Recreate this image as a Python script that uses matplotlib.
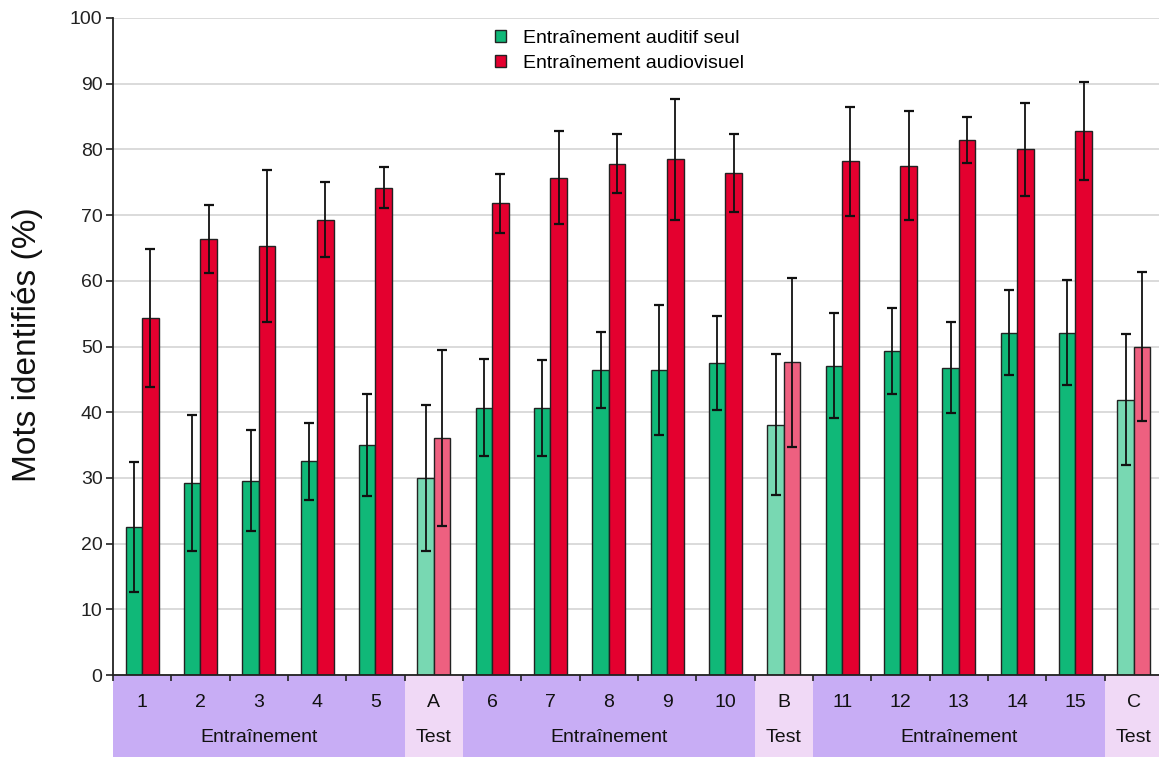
import matplotlib
matplotlib.use("Agg")
import matplotlib.pyplot as plt
import numpy as np
from matplotlib.patches import Patch

plt.rcParams["font.family"] = ["Liberation Sans", "DejaVu Sans"]

labels = ["1", "2", "3", "4", "5", "A", "6", "7", "8", "9", "10", "B",
          "11", "12", "13", "14", "15", "C"]
is_test = [False] * 5 + [True] + [False] * 5 + [True] + [False] * 5 + [True]
auditif = [22.5, 29.2, 29.6, 32.5, 35.0, 30.0, 40.7, 40.7, 46.4, 46.4, 47.5, 38.1,
           47.1, 49.3, 46.8, 52.1, 52.1, 41.9]
auditif_err = [9.9, 10.4, 7.7, 5.8, 7.8, 11.1, 7.4, 7.3, 5.8, 9.9, 7.2, 10.7,
               8.0, 6.6, 6.9, 6.5, 8.0, 10.0]
audiovisuel = [54.3, 66.4, 65.3, 69.3, 74.2, 36.1, 71.8, 75.7, 77.8, 78.5, 76.4, 47.6,
               78.2, 77.5, 81.4, 80.0, 82.8, 50.0]
audiovisuel_err = [10.5, 5.2, 11.5, 5.7, 3.1, 13.4, 4.5, 7.1, 4.5, 9.2, 5.9, 12.9,
                   8.3, 8.3, 3.5, 7.1, 7.5, 11.3]
sessions = [("Entraînement", 5), ("Test", 1), ("Entraînement", 5), ("Test", 1),
            ("Entraînement", 5), ("Test", 1)]

GREEN, GREEN_LT = "#10B878", "#78D8B2"
RED, RED_LT = "#E4002F", "#EE6080"
BAND_TRAIN, BAND_TEST = "#C8ADF5", "#F0D9F6"

W, H = 1159, 757
fig = plt.figure(figsize=(W / 100, H / 100), dpi=100)
left, right, top, bottom = 113, 1163, 18, 675
ax = fig.add_axes([left / W, 1 - bottom / H, (right - left) / W, (bottom - top) / H])
band = fig.add_axes([left / W, 0, (right - left) / W, (H - bottom) / H])

x = np.arange(len(labels))
bw = 0.283
g_colors = [GREEN_LT if t else GREEN for t in is_test]
r_colors = [RED_LT if t else RED for t in is_test]

ax.bar(x - bw / 2, auditif, bw, color=g_colors, edgecolor="#222222", linewidth=1, zorder=2)
ax.bar(x + bw / 2, audiovisuel, bw, color=r_colors, edgecolor="#222222", linewidth=1, zorder=2)
ax.errorbar(x - bw / 2, auditif, yerr=auditif_err, fmt="none", ecolor="#111111",
            elinewidth=1.3, capsize=3.4, capthick=1.6, zorder=3)
ax.errorbar(x + bw / 2, audiovisuel, yerr=audiovisuel_err, fmt="none", ecolor="#111111",
            elinewidth=1.3, capsize=3.4, capthick=1.6, zorder=3)

ax.set_xlim(-0.5, len(labels) - 0.5)
ax.set_ylim(0, 100)
ax.set_yticks(range(0, 101, 10))
ax.yaxis.grid(True, color="#D4D4D4", linewidth=1.2, zorder=0)
ax.set_axisbelow(True)
for s in ["top", "right"]:
    ax.spines[s].set_visible(False)
ax.spines["left"].set_linewidth(1.3)
ax.spines["bottom"].set_linewidth(1.3)
ax.spines["left"].set_color("#222222")
ax.spines["bottom"].set_color("#222222")
ax.tick_params(axis="y", length=5, width=1.2, pad=2.5, labelsize=14, colors="#222222")
ax.set_xticks(np.arange(-0.5, len(labels) - 0.4, 1.0))
ax.tick_params(axis="x", length=4.5, width=1.2, labelbottom=False, colors="#222222")

fig.text(28 / W, 1 - 345 / H, "Mots identifiés (%)", rotation=90, ha="center", va="center",
         fontsize=24, color="#111111")

# bandeau des catégories sous l'axe
band.set_xlim(-0.5, len(labels) - 0.5)
band.set_ylim(0, 1)
band.axis("off")
start = 0
for name, n in sessions:
    col = BAND_TEST if name == "Test" else BAND_TRAIN
    band.axvspan(start - 0.5, start + n - 0.5, color=col, lw=0)
    band.text(start + (n - 1) / 2, 0.235, name, ha="center", va="center", fontsize=14, color="#111111")
    start += n
for i, lab in enumerate(labels):
    band.text(i, 0.66, lab, ha="center", va="center", fontsize=14, color="#111111")
ax.set_zorder(band.get_zorder() + 1)

handles = [Patch(facecolor=GREEN, edgecolor="#222222", label="Entraînement auditif seul"),
           Patch(facecolor=RED, edgecolor="#222222", label="Entraînement audiovisuel")]
fig.legend(handles=handles, loc="upper left", bbox_to_anchor=(495 / W, 1 - 30 / H),
           frameon=False, fontsize=14, handlelength=0.55, handleheight=0.55,
           handletextpad=0.9, labelspacing=0.42, borderpad=0, borderaxespad=0)

fig.savefig("out.png", dpi=100)
